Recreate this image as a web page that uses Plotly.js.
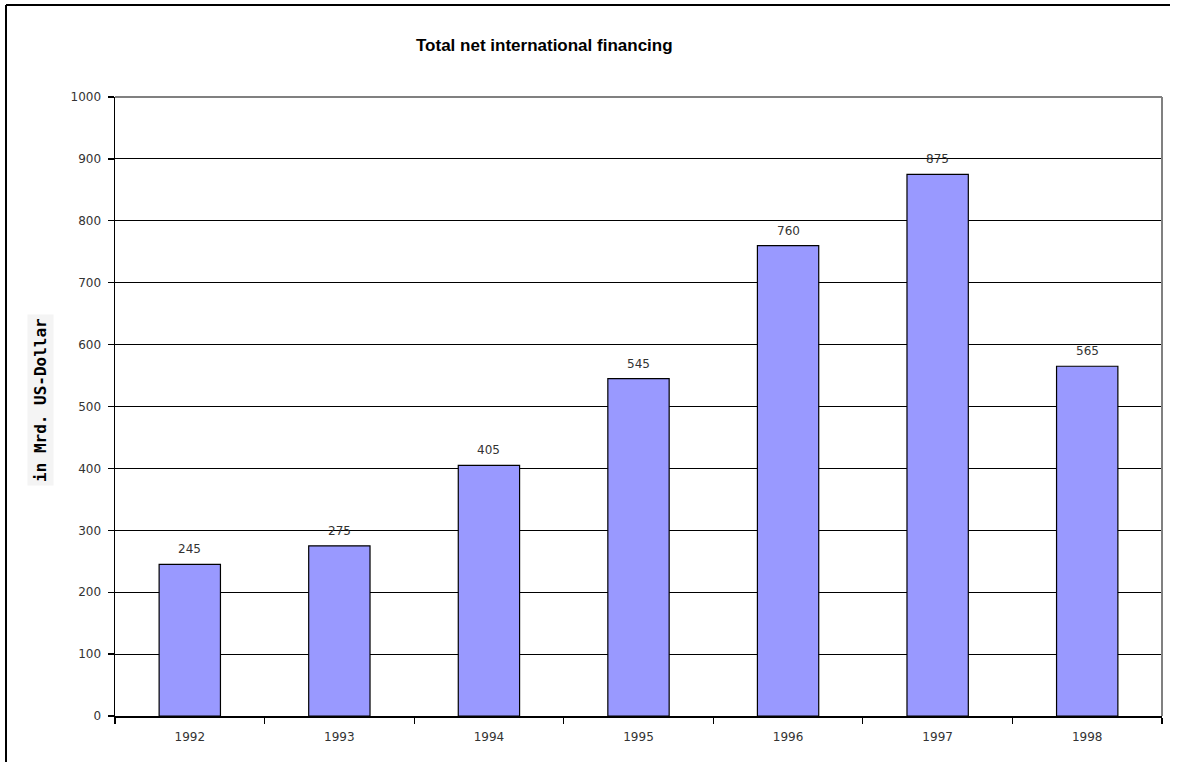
<!DOCTYPE html>
<html>
<head>
<meta charset="utf-8">
<script src="https://cdn.plot.ly/plotly-3.0.1.min.js"></script>
<style>
html,body{margin:0;padding:0;background:#fff;}
#chart{width:1179px;height:762px;}
</style>
</head>
<body>
<div id="chart"></div>
<script>
var years = ["1992","1993","1994","1995","1996","1997","1998"];
var values = [245, 275, 405, 545, 760, 875, 565];
var valueLabels = ["245","275","405","545","760","875","565"];
var yTicks = [0,100,200,300,400,500,600,700,800,900,1000];

var trace = {
  type: 'bar',
  x: years,
  y: values,
  marker: {color: '#9999FF', line: {color: '#000000', width: 1.2}},
  width: 0.41,
  hoverinfo: 'skip'
};

var annotations = years.map(function(yr, i){
  return {
    x: i, y: values[i], xref: 'x', yref: 'y',
    text: valueLabels[i], showarrow: false,
    yanchor: 'bottom', yshift: 6,
    font: {family: 'DejaVu Sans', size: 12, color: '#333'}
  };
});
annotations.push({
  text: 'Total net international financing',
  xref: 'paper', yref: 'paper',
  x: (544-115)/1047, y: (716-45)/619,
  xanchor: 'center', yanchor: 'middle', showarrow: false,
  font: {family: 'Liberation Sans', size: 17, color: '#000', weight: 'bold'}
});
annotations.push({
  text: '<b>in Mrd. US-Dollar</b>',
  xref: 'paper', yref: 'paper',
  x: (40-115)/1047, y: (716-400)/619,
  xanchor: 'center', yanchor: 'middle', showarrow: false,
  textangle: -90, bgcolor: '#f4f4f4', borderpad: 3,
  font: {family: 'DejaVu Sans Mono', size: 16, color: '#000'}
});

var layout = {
  width: 1179, height: 762,
  margin: {l: 115, r: 17, t: 97, b: 46, pad: 0},
  paper_bgcolor: '#fff', plot_bgcolor: '#fff',
  showlegend: false,
  bargap: 0.59,
  xaxis: {
    type: 'category',
    range: [-0.5, 6.5],
    showline: true, linecolor: '#000', linewidth: 1.5,
    ticks: 'outside', tickson: 'boundaries', ticklen: 6, tickcolor: '#000', tickwidth: 1.2,
    ticklabelstandoff: 9,
    showgrid: false, zeroline: false,
    tickfont: {family: 'DejaVu Sans', size: 12, color: '#333'},
    fixedrange: true
  },
  yaxis: {
    range: [0, 1000],
    tickvals: yTicks,
    ticktext: yTicks.map(String),
    showline: true, linecolor: '#000', linewidth: 1.5,
    ticks: 'outside', ticklen: 6, tickcolor: '#000', tickwidth: 1.2,
    ticklabelstandoff: 4,
    showgrid: true, gridcolor: '#000', gridwidth: 1,
    zeroline: false,
    tickfont: {family: 'DejaVu Sans', size: 12, color: '#333'},
    fixedrange: true
  },
  annotations: annotations,
  shapes: [
    {type: 'line', xref: 'paper', yref: 'paper', x0: 0, x1: 1, y0: 1, y1: 1, line: {color: '#808080', width: 2}},
    {type: 'line', xref: 'paper', yref: 'paper', x0: 1, x1: 1, y0: 0, y1: 1, line: {color: '#808080', width: 2}},
    {type: 'line', xref: 'paper', yref: 'paper', x0: (6-115)/1047, x1: (1170-115)/1047, y0: (716-5)/619, y1: (716-5)/619, line: {color: '#000', width: 2}},
    {type: 'line', xref: 'paper', yref: 'paper', x0: (6-115)/1047, x1: (6-115)/1047, y0: (716-5)/619, y1: (716-770)/619, line: {color: '#000', width: 2}}
  ]
};

Plotly.newPlot('chart', [trace], layout, {displayModeBar: false, staticPlot: true});
</script>
</body>
</html>
